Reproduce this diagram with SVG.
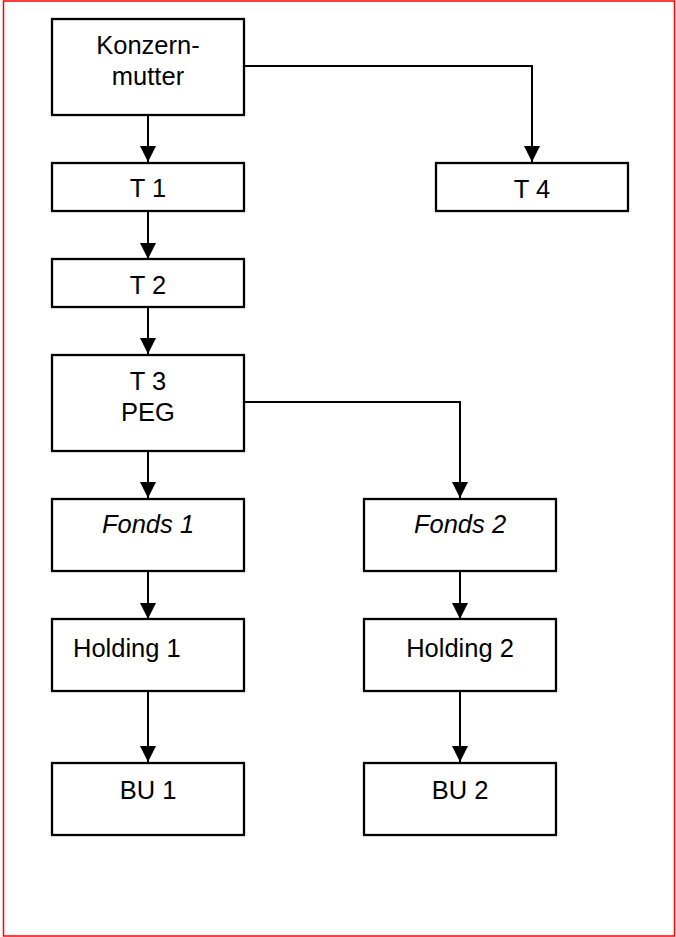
<svg xmlns="http://www.w3.org/2000/svg" width="676" height="937" viewBox="0 0 676 937">
<defs>
<style>
.box{fill:#fff;stroke:#000;stroke-width:2.3}
.t{font-family:"Liberation Sans",Arial,sans-serif;font-size:25.5px;fill:#000;text-anchor:middle}
.i{font-style:italic}
.c{fill:none;stroke:#000;stroke-width:2}
</style>
<marker id="ah" markerUnits="userSpaceOnUse" markerWidth="16" markerHeight="16" refX="16" refY="8" orient="auto" viewBox="0 0 16 16">
<path d="M0,0 L16,8 L0,16 Z" fill="#000"/>
</marker>
</defs>
<rect x="0" y="0" width="676" height="937" fill="#fff"/>
<rect x="3.5" y="1" width="671" height="935" fill="none" stroke="#f00" stroke-width="1.5"/>
<g id="connectors">
<path class="c" d="M148,115 V162" marker-end="url(#ah)"/>
<path class="c" d="M244,66 H532 V162" marker-end="url(#ah)"/>
<path class="c" d="M148,211 V259" marker-end="url(#ah)"/>
<path class="c" d="M148,307 V354" marker-end="url(#ah)"/>
<path class="c" d="M148,451 V498" marker-end="url(#ah)"/>
<path class="c" d="M244,402 H460 V498" marker-end="url(#ah)"/>
<path class="c" d="M148,571 V619" marker-end="url(#ah)"/>
<path class="c" d="M460,571 V619" marker-end="url(#ah)"/>
<path class="c" d="M148,691 V762" marker-end="url(#ah)"/>
<path class="c" d="M460,691 V762" marker-end="url(#ah)"/>
</g>
<g id="konzernmutter">
<rect class="box" x="52" y="19" width="192" height="96"/>
<text class="t" x="148" y="54">Konzern-</text>
<text class="t" x="148" y="85">mutter</text>
</g>
<g id="t1">
<rect class="box" x="52" y="163" width="192" height="48"/>
<text class="t" x="148" y="197">T 1</text>
</g>
<g id="t4">
<rect class="box" x="436" y="163" width="192" height="48"/>
<text class="t" x="532" y="198">T 4</text>
</g>
<g id="t2">
<rect class="box" x="52" y="259" width="192" height="48"/>
<text class="t" x="148" y="294">T 2</text>
</g>
<g id="t3">
<rect class="box" x="52" y="355" width="192" height="96"/>
<text class="t" x="148" y="390">T 3</text>
<text class="t" x="148" y="421">PEG</text>
</g>
<g id="fonds1">
<rect class="box" x="52" y="499" width="192" height="72"/>
<text class="t i" x="148" y="533">Fonds 1</text>
</g>
<g id="fonds2">
<rect class="box" x="364" y="499" width="192" height="72"/>
<text class="t i" x="460" y="533">Fonds 2</text>
</g>
<g id="holding1">
<rect class="box" x="52" y="619" width="192" height="72"/>
<text class="t" x="73" y="657" style="text-anchor:start">Holding 1</text>
</g>
<g id="holding2">
<rect class="box" x="364" y="619" width="192" height="72"/>
<text class="t" x="460" y="657">Holding 2</text>
</g>
<g id="bu1">
<rect class="box" x="52" y="763" width="192" height="72"/>
<text class="t" x="148" y="799">BU 1</text>
</g>
<g id="bu2">
<rect class="box" x="364" y="763" width="192" height="72"/>
<text class="t" x="460" y="799">BU 2</text>
</g>
</svg>
